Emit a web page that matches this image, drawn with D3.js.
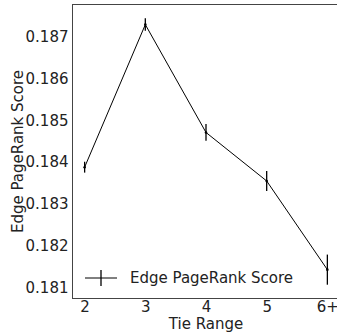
<!DOCTYPE html>
<html>
<head>
<meta charset="utf-8">
<script src="https://cdn.jsdelivr.net/npm/d3@7"></script>
<style>
  body { margin: 0; background: #fff; }
  svg { display: block; font-family: "DejaVu Sans", sans-serif; }
</style>
</head>
<body>
<div id="viz"></div>
<script>
var categories = ["2", "3", "4", "5", "6+"];
var scores = [0.18388, 0.18729, 0.18471, 0.18355, 0.18143];
var errors = [0.00013, 0.00015, 0.00020, 0.00024, 0.00036];
var yTicks = [0.181, 0.182, 0.183, 0.184, 0.185, 0.186, 0.187];

var W = 337, H = 335;
var mLeft = 72.5, mTop = 4.5, mBottom = 298.5, mRight = 339.5;
var fs = 15;

var svg = d3.select("#viz").append("svg")
    .attr("width", W)
    .attr("height", H);

var idx = d3.scaleLinear().domain([-0.2, 4.2]).range([mLeft, mRight]);
var x = function(c) { return idx(categories.indexOf(c)); };
var y = d3.scaleLinear().domain([0.18074, 0.18777]).range([mBottom, mTop]);

var data = categories.map(function(c, i) {
    return {cat: c, v: scores[i], e: errors[i]};
});

// axes, no tick marks
var xAxis = svg.append("g")
    .attr("transform", "translate(0," + mBottom + ")")
    .call(d3.axisBottom(idx).tickValues(d3.range(categories.length))
        .tickFormat(function(i) { return categories[i]; })
        .tickSize(0).tickPadding(3));
xAxis.select(".domain").remove();
xAxis.selectAll("text").attr("font-size", fs).attr("fill", "#222")
    .attr("font-family", "DejaVu Sans");

var yAxis = svg.append("g")
    .attr("transform", "translate(" + mLeft + ",0)")
    .call(d3.axisLeft(y).tickValues(yTicks).tickFormat(d3.format(".3f"))
        .tickSize(0).tickPadding(4));
yAxis.select(".domain").remove();
yAxis.selectAll("text").attr("font-size", fs).attr("fill", "#222")
    .attr("font-family", "DejaVu Sans");

// spines
svg.append("rect")
    .attr("x", mLeft).attr("y", mTop)
    .attr("width", mRight - mLeft).attr("height", mBottom - mTop)
    .attr("fill", "none")
    .attr("stroke", "#444")
    .attr("stroke-width", 1);

// line
svg.append("path")
    .datum(data)
    .attr("fill", "none")
    .attr("stroke", "#000")
    .attr("stroke-width", 1)
    .attr("d", d3.line().x(function(d) { return x(d.cat); }).y(function(d) { return y(d.v); }));

// error bars
svg.selectAll(".err")
    .data(data)
    .enter().append("line")
    .attr("class", "err")
    .attr("x1", function(d) { return x(d.cat); })
    .attr("x2", function(d) { return x(d.cat); })
    .attr("y1", function(d) { return y(d.v - d.e); })
    .attr("y2", function(d) { return y(d.v + d.e); })
    .attr("stroke", "#000")
    .attr("stroke-width", 1.3);

svg.selectAll(".dot")
    .data(data)
    .enter().append("circle")
    .attr("cx", function(d) { return x(d.cat); })
    .attr("cy", function(d) { return y(d.v); })
    .attr("r", 1.3)
    .attr("fill", "#000");

// legend
var lg = svg.append("g").attr("transform", "translate(85,278)");
lg.append("line").attr("x1", 0).attr("x2", 32).attr("y1", 0).attr("y2", 0)
    .attr("stroke", "#000").attr("stroke-width", 1);
lg.append("line").attr("x1", 16).attr("x2", 16).attr("y1", -8).attr("y2", 8)
    .attr("stroke", "#000").attr("stroke-width", 1.3);
lg.append("text").attr("x", 45).attr("y", 5)
    .attr("font-size", fs).attr("fill", "#222")
    .text("Edge PageRank Score");

// axis labels
svg.append("text")
    .attr("text-anchor", "middle")
    .attr("x", 206)
    .attr("y", 329)
    .attr("font-size", fs).attr("fill", "#222")
    .text("Tie Range");

svg.append("text")
    .attr("text-anchor", "middle")
    .attr("transform", "rotate(-90)")
    .attr("x", -(mTop + mBottom) / 2)
    .attr("y", 23)
    .attr("font-size", fs).attr("fill", "#222")
    .text("Edge PageRank Score");
</script>
</body>
</html>
